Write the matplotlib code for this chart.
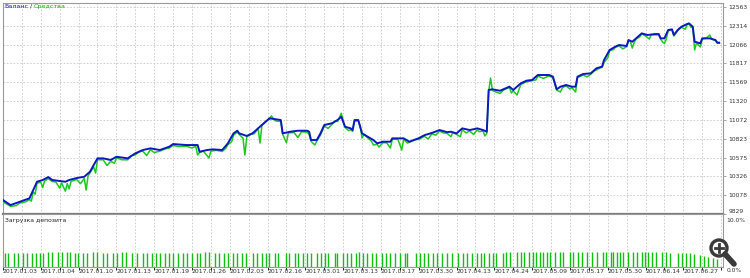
import matplotlib
matplotlib.use("Agg")
import matplotlib.pyplot as plt
from matplotlib.patches import Circle
from matplotlib.lines import Line2D

plt.rcParams['font.family'] = ['Liberation Sans Narrow', 'DejaVu Sans']

# x axis = deal number (grid every 10, date label every 20)
date_labels = ['2017.01.03', '2017.01.04', '2017.01.10', '2017.01.13', '2017.01.19',
               '2017.01.26', '2017.02.03', '2017.02.16', '2017.03.01', '2017.03.13',
               '2017.03.17', '2017.03.30', '2017.04.13', '2017.04.24', '2017.05.09',
               '2017.05.17', '2017.05.30', '2017.06.14', '2017.06.27']
y_ticks = [12563, 12314, 12066, 11817, 11569, 11320, 11072, 10823, 10575, 10326, 10078, 9829]

balance_x = [0, 4, 9, 14, 16, 18, 21, 24, 26, 29, 33, 35, 39, 43, 46, 50, 53, 57, 60, 66,
             70, 74, 78, 83, 88, 90, 97, 103, 104, 108, 111, 116, 119, 122, 124, 125, 129, 132, 138, 141,
             147, 148, 152, 156, 161, 162, 163, 166, 168, 170, 174, 177, 179, 181, 184, 185, 186, 188, 190, 193,
             196, 198, 201, 205, 206, 212, 215, 220, 223, 227, 231, 235, 237, 240, 243, 247, 251, 254, 256, 257,
             259, 263, 266, 268, 270, 274, 277, 280, 283, 289, 291, 293, 295, 298, 301, 303, 304, 307, 311, 314,
             317, 318, 320, 321, 324, 326, 330, 331, 333, 335, 338, 341, 345, 347, 348, 350, 352, 354, 355, 357,
             359, 362, 363, 365, 366, 369, 370, 374, 377, 378, 379]
balance_y = [10013, 9947, 9991, 10036, 10146, 10255, 10278, 10317, 10278, 10268, 10255, 10278, 10304, 10321, 10387, 10564, 10564, 10542, 10585, 10564,
             10630, 10674, 10696, 10674, 10718, 10753, 10740, 10740, 10651, 10674, 10683, 10674, 10762, 10894, 10929, 10894, 10860, 10894, 11027, 11093,
             11070, 10894, 10916, 10929, 10929, 10916, 10806, 10806, 10894, 11004, 11027, 11070, 11114, 10982, 10960, 10938, 11070, 11070, 10894, 10850,
             10806, 10762, 10784, 10784, 10828, 10828, 10784, 10830, 10870, 10900, 10938, 10910, 10916, 10894, 10960, 10938, 10960, 10938, 10916, 11467,
             11476, 11457, 11489, 11511, 11467, 11555, 11590, 11599, 11665, 11665, 11643, 11476, 11511, 11533, 11511, 11511, 11643, 11678, 11687, 11753,
             11775, 11860, 11951, 11995, 12039, 12061, 12048, 12127, 12105, 12149, 12215, 12193, 12206, 12206, 12149, 12149, 12259, 12268, 12193, 12259,
             12303, 12338, 12347, 12303, 12105, 12083, 12149, 12149, 12127, 12092, 12092]

equity_x = [0, 2, 4, 7, 9, 12, 14, 15, 16, 17, 18, 20, 21, 22, 24, 26, 28, 30, 31, 33,
            34, 35, 36, 39, 41, 43, 44, 45, 46, 48, 49, 50, 53, 55, 57, 59, 60, 63, 66, 68,
            70, 72, 74, 76, 78, 80, 83, 86, 88, 90, 93, 97, 100, 102, 103, 104, 106, 109, 110, 113,
            116, 118, 119, 121, 122, 124, 125, 127, 128, 129, 131, 133, 135, 136, 137, 139, 141, 142, 144, 147,
            148, 150, 151, 154, 156, 158, 161, 162, 163, 165, 166, 168, 170, 172, 174, 176, 177, 178, 179, 181,
            183, 184, 185, 186, 188, 189, 190, 191, 193, 195, 196, 198, 199, 201, 203, 205, 206, 209, 211, 212,
            214, 215, 218, 220, 223, 225, 227, 229, 231, 233, 235, 237, 238, 240, 242, 243, 245, 247, 249, 251,
            252, 254, 255, 256, 257, 258, 259, 261, 263, 265, 268, 269, 270, 272, 274, 277, 280, 282, 283, 286,
            289, 291, 293, 295, 296, 298, 300, 301, 303, 304, 307, 309, 311, 313, 314, 316, 317, 318, 320, 321,
            323, 324, 326, 328, 330, 331, 332, 333, 334, 335, 337, 338, 340, 342, 343, 345, 347, 348, 349, 350,
            351, 352, 354, 355, 357, 359, 361, 362, 363, 364, 365, 366, 367, 369, 370, 372, 374, 375, 377, 378,
            379]
equity_y = [9990, 9960, 9930, 9940, 9975, 9990, 10020, 10000, 10120, 10090, 10235, 10250, 10180, 10265, 10295, 10260, 10250, 10170, 10240, 10130,
            10230, 10160, 10260, 10285, 10230, 10300, 10146, 10330, 10370, 10450, 10370, 10545, 10545, 10470, 10525, 10500, 10570, 10545, 10545, 10600,
            10610, 10650, 10660, 10600, 10680, 10640, 10660, 10690, 10700, 10735, 10720, 10725, 10700, 10725, 10608, 10640, 10660, 10568, 10660, 10670,
            10655, 10700, 10745, 10784, 10870, 10910, 10880, 10830, 10608, 10850, 10880, 10890, 10960, 10766, 11000, 11050, 11080, 11125, 11060, 11050,
            10880, 10770, 10900, 10905, 10840, 10915, 10910, 10880, 10790, 10740, 10790, 10870, 10990, 10960, 11010, 11060, 11050, 11100, 11160, 10970,
            10930, 10945, 10920, 11050, 11060, 10990, 10832, 10880, 10835, 10790, 10740, 10750, 10713, 10770, 10770, 10700, 10815, 10815, 10674, 10815,
            10766, 10775, 10810, 10815, 10855, 10820, 10890, 10870, 10925, 10900, 10895, 10850, 10905, 10880, 10850, 10945, 10900, 10925, 10880, 10940,
            10916, 10925, 10860, 10894, 11450, 11625, 11460, 11440, 11420, 11470, 11500, 11427, 11455, 11400, 11540, 11575, 11590, 11600, 11650, 11620,
            11655, 11625, 11465, 11440, 11500, 11520, 11480, 11500, 11440, 11630, 11665, 11640, 11675, 11720, 11731, 11760, 11765, 11830, 11889, 11985,
            12000, 12030, 12050, 12010, 12040, 12115, 12110, 12021, 12095, 12140, 12170, 12210, 12180, 12140, 12195, 12195, 12195, 12140, 12100, 12083,
            12140, 12250, 12260, 12180, 12250, 12295, 12270, 12330, 12340, 12295, 12290, 11995, 12090, 12035, 12140, 12150, 12193, 12140, 12120, 12085,
            12085]

load_x = [1.1, 2.6, 5.8, 7.9, 10.6, 12.7, 15.3, 17.5, 19.6, 21.2, 23.8, 25.9, 29.1, 31.2, 33.9, 35.4, 38.1, 39.7, 42.3, 44.4,
          47.6, 49.7, 52.9, 55.0, 58.2, 60.3, 63.0, 65.1, 68.3, 70.9, 74.1, 76.2, 78.8, 81.0, 83.1, 85.7, 87.8, 89.9, 92.6, 95.2,
          97.4, 100.0, 102.6, 104.2, 106.9, 109.0, 112.2, 114.3, 116.9, 119.0, 121.7, 123.8, 126.5, 128.6, 132.3, 134.4, 137.0, 139.2, 140.7, 143.9,
          145.5, 149.7, 151.3, 154.5, 156.1, 158.7, 160.8, 163.0, 166.1, 168.3, 170.4, 172.0, 175.7, 176.7, 179.9, 182.0, 184.1, 186.8, 188.4, 190.5,
          192.6, 195.2, 197.4, 200.5, 202.6, 204.8, 207.4, 210.1, 212.7, 213.8, 218.5, 220.6, 222.8, 224.9, 227.5, 229.6, 232.3, 234.9, 237.6, 240.7,
          243.4, 245.5, 248.1, 250.8, 252.9, 254.5, 257.1, 259.3, 260.8, 264.6, 266.1, 268.3, 271.9, 274.1, 275.7, 278.3, 280.4, 282.0, 284.1, 285.7,
          287.8, 289.4, 292.1, 294.7, 296.3, 300.0, 301.6, 304.2, 306.3, 309.0, 311.6, 314.3, 317.5, 319.0, 321.7, 322.8, 324.9, 326.5, 328.0, 330.7,
          333.3, 335.4, 338.1, 339.7, 341.3, 343.4, 345.5, 348.7, 350.8, 352.9, 357.1, 359.3, 361.4, 363.5, 365.6, 368.8, 370.9, 373.0, 375.7, 377.8]
load_y = [2.8, 2.8, 2.8, 2.8, 2.8, 2.8, 2.8, 2.8, 2.8, 2.8, 2.9, 2.9, 2.9, 2.9, 2.9, 2.9, 2.8, 2.8, 2.8, 2.8,
          2.9, 2.9, 2.8, 2.8, 2.8, 2.8, 2.9, 2.9, 2.8, 2.8, 2.8, 2.8, 2.8, 2.8, 2.8, 2.8, 2.8, 2.8, 2.8, 2.8,
          2.8, 2.8, 2.8, 2.8, 2.9, 2.9, 2.8, 2.8, 2.8, 2.8, 2.8, 2.8, 2.8, 2.8, 2.8, 2.8, 2.8, 2.8, 2.8, 2.8,
          2.8, 2.8, 2.8, 2.8, 2.8, 2.8, 2.8, 2.7, 2.7, 2.8, 2.8, 2.8, 2.8, 2.8, 2.8, 2.8, 2.8, 2.8, 2.9, 2.8,
          2.8, 2.8, 2.8, 2.8, 2.8, 2.8, 2.8, 2.8, 2.8, 2.8, 2.8, 2.8, 2.8, 2.8, 2.8, 2.8, 2.8, 2.8, 2.8, 2.8,
          2.8, 2.8, 2.8, 2.8, 2.8, 2.8, 2.8, 2.8, 2.8, 2.8, 2.9, 2.9, 2.9, 2.9, 2.9, 2.9, 2.9, 2.9, 2.9, 2.9,
          2.9, 2.9, 2.9, 2.9, 2.9, 2.9, 2.9, 2.9, 2.9, 2.9, 2.9, 2.9, 2.9, 2.9, 2.9, 2.9, 2.9, 2.9, 2.9, 2.9,
          2.9, 2.9, 2.9, 2.9, 2.9, 2.9, 2.9, 2.9, 2.9, 2.8, 2.8, 2.8, 2.8, 2.8, 2.6, 2.4, 2.2, 2.0, 1.7, 1.5]

BLUE = '#0c18c0'
GREEN = '#1ec81e'
GRID = '#c8c8c8'
FRAME = '#9a9a9a'
W, H = 750, 278

fig = plt.figure(figsize=(7.5, 2.78), dpi=100)
fig.patch.set_facecolor('white')

ax = fig.add_axes([3 / W, 1 - 214 / H, 720 / W, 211 / H])
ax2 = fig.add_axes([3 / W, 1 - 267 / H, 720 / W, 53 / H])

xmax = 381
step = y_ticks[0] - y_ticks[1]
ymin = y_ticks[-1]
ymax = y_ticks[0] + step * 4 / 18.8

for a in (ax, ax2):
    a.set_xlim(0, xmax)
    a.set_xticks(range(0, xmax, 10), minor=True)
    a.set_xticks([])
    a.grid(True, which='minor', axis='x', color=GRID, linestyle=(0, (2, 2)), linewidth=0.6)
    for s in a.spines.values():
        s.set_color(FRAME)
        s.set_linewidth(0.8)
    a.set_axisbelow(True)

# main panel: balance / equity
ax.plot(equity_x, equity_y, color=GREEN, linewidth=1.1, zorder=3)
ax.plot(balance_x, balance_y, color=BLUE, linewidth=1.4, zorder=4)
ax.set_ylim(ymin, ymax)
ax.set_yticks(y_ticks)
ax.yaxis.tick_right()
ax.set_yticklabels([str(v) for v in y_ticks], fontsize=4.3, color='#333333')
ax.get_yticklabels()[-1].set_va('bottom')
ax.tick_params(axis='y', length=2, width=0.6, color=FRAME, pad=2)
ax.grid(True, which='major', axis='y', color=GRID, linestyle=(0, (2, 2)), linewidth=0.6)
ax.spines['bottom'].set_color('#7a7a7a')
ax.spines['bottom'].set_linewidth(1.6)

# legend "Баланс / Средства", pieces placed one after another
fig.canvas.draw()
renderer = fig.canvas.get_renderer()
x_px = 4
for piece, col in [('Баланс', BLUE), ('/', '#333333'), ('Средства', '#10b010')]:
    t = fig.text(x_px / W, 1 - 4 / H, piece, fontsize=4.6, color=col, va='top', ha='left')
    x_px = t.get_window_extent(renderer).x1 + 2

# lower panel: deposit load
ax2.vlines(load_x, 0, load_y, color='#10c010', linewidth=1.0)
ax2.set_ylim(0, 10.3)
ax2.set_yticks([])
ax2.text(0.003, 0.93, 'Загрузка депозита', transform=ax2.transAxes, fontsize=4.4, color='#222222',
         va='top', ha='left')
ax2.text(1.005, 0.93, '10.0%', transform=ax2.transAxes, fontsize=4.3, color='#333333', va='top', ha='left')
ax2.text(1.005, -0.02, '0.0%', transform=ax2.transAxes, fontsize=4.3, color='#333333', va='top', ha='left')

for i, lab in enumerate(date_labels):
    ax2.text(i * 20, -0.04, lab, transform=ax2.get_xaxis_transform(), fontsize=4.4,
             color='#333333', va='top', ha='left')

# zoom (magnifier) icon in the bottom-right corner, in pixel coordinates
cx, cy = 719, H - 248
fig.add_artist(Line2D([cx + 6, cx + 15], [cy - 6, cy - 16], transform=None,
                      color='#3a3a3a', linewidth=4, solid_capstyle='round'))
fig.add_artist(Circle((cx, cy), 8, transform=None, facecolor='white',
                      edgecolor='#3a3a3a', linewidth=2.4))
fig.add_artist(Line2D([cx - 4, cx + 4], [cy, cy], transform=None, color='#3a3a3a', linewidth=2))
fig.add_artist(Line2D([cx, cx], [cy - 4, cy + 4], transform=None, color='#3a3a3a', linewidth=2))

fig.savefig('out.png', dpi=100)
